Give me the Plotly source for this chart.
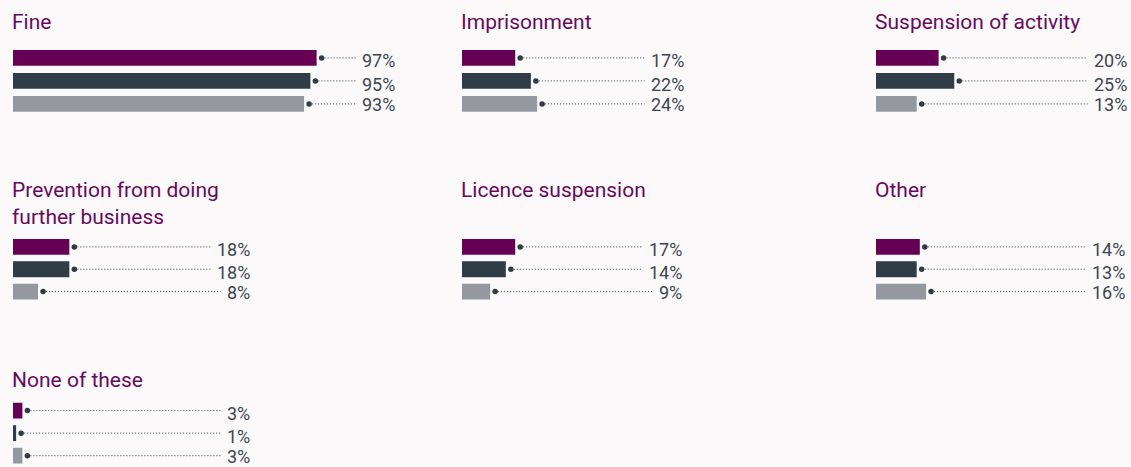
import plotly.graph_objects as go

# Share of respondents per sanction, three groups
categories = [
    "Fine",
    "Imprisonment",
    "Suspension of activity",
    "Prevention from doing further business",
    "Licence suspension",
    "Other",
    "None of these",
]
title_labels = [
    "Fine",
    "Imprisonment",
    "Suspension of activity",
    "Prevention from doing<br>further business",
    "Licence suspension",
    "Other",
    "None of these",
]
series_1 = [97, 17, 20, 18, 17, 14, 3]
series_2 = [95, 22, 25, 18, 14, 13, 1]
series_3 = [93, 24, 13, 8, 9, 16, 3]

SERIES_COLORS = ["#650055", "#303c46", "#95989e"]
COLORS = {
    "background": "#fbf9fa",
    "title": "#680a5c",
    "text": "#3c4650",
    "dot": "#2f3b45",
}

W, H = 1131, 467
SCALE = 3.13  # pixels per percentage point
BAR_H = 15.8
DOT_GAP = 5
LABEL_GAP = 6
LABEL_YSHIFT = [-3, -3.5, -1]

COL_X = [13, 462, 876]
ROW_TITLE_TOP = [13.3, 181.7, 371.7]
ROW_BAR_TOP = [50, 239, 402.7]
ROW_PITCH = [23, 22.35, 22.6]
LABEL_RIGHT = [395, 684, 1127, 250, 682, 1125, 250]


def label_width(text):
    """Rough pixel width of a percentage label at 18px Roboto."""
    return (len(text) - 1) * 10.1 + 13.2


fig = go.Figure()
annotations = []
layout_axes = {}

for i, category in enumerate(categories):
    row, col = divmod(i, 3)
    n = i + 1
    xa = "x" if n == 1 else f"x{n}"
    ya = "y" if n == 1 else f"y{n}"
    values = [series_1[i], series_2[i], series_3[i]]
    texts = [f"{v}%" for v in values]
    pitch = ROW_PITCH[row]
    x0 = COL_X[col]
    right_units = (LABEL_RIGHT[i] - x0) / SCALE

    fig.add_trace(
        go.Bar(
            x=values,
            y=[0, 1, 2],
            orientation="h",
            width=BAR_H / pitch,
            marker={"color": SERIES_COLORS, "line": {"width": 0}},
            xaxis=xa,
            yaxis=ya,
            hoverinfo="skip",
            showlegend=False,
        )
    )

    dot_x = [v + DOT_GAP / SCALE for v in values]
    line_x, line_y = [], []
    for j, (dx, t) in enumerate(zip(dot_x, texts)):
        end = right_units - (label_width(t) + LABEL_GAP) / SCALE
        line_x += [dx, end, None]
        line_y += [j, j, None]

    fig.add_trace(
        go.Scatter(
            x=line_x,
            y=line_y,
            mode="lines",
            line={"color": COLORS["dot"], "width": 1, "dash": "1px,2px"},
            xaxis=xa,
            yaxis=ya,
            hoverinfo="skip",
            showlegend=False,
        )
    )
    fig.add_trace(
        go.Scatter(
            x=dot_x,
            y=[0, 1, 2],
            mode="markers",
            marker={"color": COLORS["dot"], "size": 5.5},
            xaxis=xa,
            yaxis=ya,
            hoverinfo="skip",
            showlegend=False,
        )
    )

    for j, t in enumerate(texts):
        annotations.append(
            dict(
                x=right_units,
                y=j,
                xref=xa,
                yref=ya,
                text=t,
                showarrow=False,
                xanchor="right",
                yanchor="middle",
                xshift=2,
                yshift=LABEL_YSHIFT[j],
                font={"size": 18, "color": COLORS["text"]},
            )
        )

    annotations.append(
        dict(
            x=x0 / W,
            y=1 - (ROW_TITLE_TOP[row] - 5.8) / H,
            xref="paper",
            yref="paper",
            text=title_labels[i],
            showarrow=False,
            xanchor="left",
            yanchor="top",
            align="left",
            xshift=-3,
            font={"size": 21, "color": COLORS["title"]},
        )
    )

    top = ROW_BAR_TOP[row] - (pitch - BAR_H) / 2
    bottom = top + 3 * pitch
    key = "" if n == 1 else str(n)
    layout_axes[f"xaxis{key}"] = dict(
        domain=[x0 / W, LABEL_RIGHT[i] / W],
        range=[0, right_units],
        visible=False,
        fixedrange=True,
        anchor=ya,
    )
    layout_axes[f"yaxis{key}"] = dict(
        domain=[max(0, 1 - bottom / H), 1 - top / H],
        range=[2.5, -0.5],
        visible=False,
        fixedrange=True,
        anchor=xa,
    )

fig.update_layout(
    width=W,
    height=H,
    margin={"l": 0, "r": 0, "t": 0, "b": 0},
    paper_bgcolor=COLORS["background"],
    plot_bgcolor=COLORS["background"],
    font={"family": "Roboto, sans-serif", "color": COLORS["text"]},
    annotations=annotations,
    showlegend=False,
    **layout_axes,
)

fig.write_html(
    "out.html",
    config={"displayModeBar": False},
    post_script="document.body.style.margin='0';document.body.style.overflow='hidden';",
)
